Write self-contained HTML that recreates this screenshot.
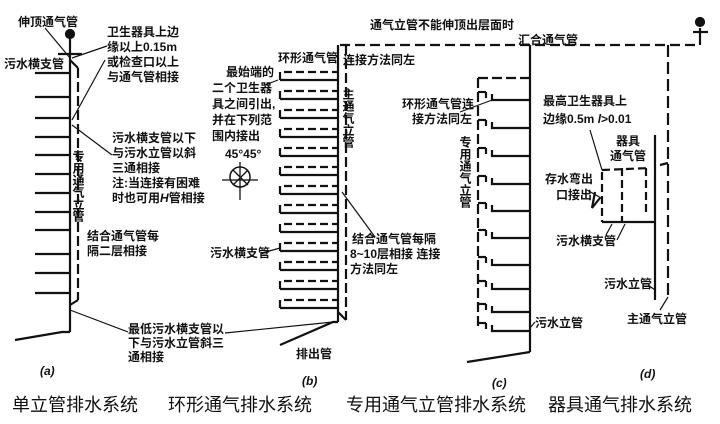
<!DOCTYPE html>
<html><head><meta charset="utf-8"><style>
html,body{margin:0;padding:0;background:#fff}
svg{display:block}
text{font-family:"Liberation Sans","Noto Sans CJK SC",sans-serif;font-weight:bold;font-size:12px;fill:#111}
.cap{font-weight:normal;font-size:18px}
</style></head><body>
<svg width="720" height="424" viewBox="0 0 720 424" xmlns="http://www.w3.org/2000/svg">
<g stroke="#111" stroke-width="2.2" fill="none">
<!-- (a) -->
<circle cx="70" cy="34" r="4" fill="#111"/>
<line x1="70" y1="34" x2="70" y2="332"/>
<line x1="58" y1="54" x2="82" y2="54"/>
<line x1="70" y1="60" x2="78" y2="68"/>
<line x1="78" y1="68" x2="78" y2="300" stroke-dasharray="10,4"/>
<line x1="78" y1="300" x2="70" y2="305"/>
<polyline points="70,332 62,332 15,340"/>
<g>
<line x1="35" y1="73" x2="70" y2="73"/><line x1="35" y1="97" x2="70" y2="97"/><line x1="35" y1="118" x2="70" y2="118"/><line x1="35" y1="137" x2="70" y2="137"/><line x1="35" y1="155" x2="70" y2="155"/><line x1="35" y1="174" x2="70" y2="174"/><line x1="35" y1="193" x2="70" y2="193"/><line x1="35" y1="212" x2="70" y2="212"/><line x1="35" y1="230" x2="70" y2="230"/><line x1="35" y1="254" x2="70" y2="254"/><line x1="35" y1="273" x2="70" y2="273"/><line x1="35" y1="293" x2="70" y2="293"/>
</g>
<g stroke-width="1.2">
<line x1="45" y1="28" x2="70" y2="58"/>
<line x1="72" y1="58" x2="107" y2="46"/>
<line x1="72" y1="120" x2="105" y2="60"/>
<line x1="72" y1="125" x2="112" y2="155"/>
<line x1="70" y1="310" x2="128" y2="332"/>
<line x1="225" y1="333" x2="333" y2="322"/>
</g>
<!-- (b) -->
<line x1="338" y1="45" x2="338" y2="322"/>
<polyline points="338,322 333,322 280,345"/>
<line x1="340" y1="45" x2="700" y2="45" stroke-dasharray="10,5"/>
<line x1="700" y1="45" x2="700" y2="28"/>
<circle cx="700" cy="22" r="4" fill="#111"/>
<line x1="693" y1="32" x2="708" y2="32"/>
<line x1="346" y1="45" x2="346" y2="320" stroke-dasharray="10,4"/>
<line x1="346" y1="320" x2="338" y2="312"/>
<g id="bb">
<line x1="280" y1="80" x2="338" y2="80"/><line x1="280" y1="72" x2="280" y2="80"/><line x1="284" y1="72" x2="338" y2="72" stroke-dasharray="8,4"/>
</g>
<use href="#bb" y="19"/><use href="#bb" y="38"/><use href="#bb" y="57"/><use href="#bb" y="76"/><use href="#bb" y="95"/><use href="#bb" y="114"/><use href="#bb" y="133"/><use href="#bb" y="152"/><use href="#bb" y="171"/><use href="#bb" y="190"/><use href="#bb" y="209"/><use href="#bb" y="228"/>
<g stroke-width="1.2">
<line x1="265" y1="85" x2="278" y2="80"/>
<line x1="342" y1="192" x2="375" y2="237"/>
<line x1="262" y1="253" x2="280" y2="248"/>
</g>
<circle cx="240" cy="177" r="10" stroke-width="1.5"/>
<line x1="222" y1="180" x2="258" y2="180" stroke-width="1.3"/>
<line x1="240" y1="162" x2="240" y2="200" stroke-width="1.3"/>
<line x1="233" y1="170" x2="248" y2="185" stroke-width="1.3"/>
<line x1="248" y1="170" x2="233" y2="185" stroke-width="1.3"/>
<!-- (c) -->
<line x1="530" y1="45" x2="530" y2="352"/>
<line x1="530" y1="352" x2="467" y2="362"/>
<line x1="478" y1="78" x2="530" y2="78" stroke-dasharray="10,4"/>
<line x1="478" y1="78" x2="478" y2="326" stroke-dasharray="10,4"/>
<g id="cc">
<line x1="478" y1="92" x2="486" y2="92"/><line x1="486" y1="92" x2="486" y2="98"/><polyline points="492,94 492,100 530,100"/>
</g>
<use href="#cc" y="28"/><use href="#cc" y="56"/><use href="#cc" y="84"/><use href="#cc" y="111"/><use href="#cc" y="138"/><use href="#cc" y="165"/><use href="#cc" y="189"/><use href="#cc" y="212"/><use href="#cc" y="231"/>
<line x1="460" y1="112" x2="492" y2="100" stroke-width="1.2"/>
<line x1="530" y1="328" x2="535" y2="322" stroke-width="1.2"/>
<!-- (d) -->
<line x1="668" y1="45" x2="668" y2="297" stroke-dasharray="12,5"/>
<line x1="655" y1="135" x2="655" y2="300"/>
<line x1="602" y1="170" x2="650" y2="168" stroke-dasharray="8,4"/>
<polyline points="660,165 668,163"/>
<line x1="602" y1="172" x2="602" y2="222" stroke-dasharray="8,4"/>
<line x1="622" y1="168" x2="622" y2="222" stroke-dasharray="8,4"/>
<line x1="646" y1="168" x2="646" y2="214" stroke-dasharray="8,4"/>
<line x1="602" y1="222" x2="655" y2="222"/>
<polyline points="595,192 592,208 600,198"/>
<line x1="587" y1="190" x2="601" y2="198" stroke-width="1.2"/>
<line x1="590" y1="130" x2="602" y2="170" stroke-width="1.2"/>
<line x1="606" y1="235" x2="612" y2="224" stroke-width="1.2"/>
<line x1="617" y1="240" x2="625" y2="224" stroke-width="1.2"/>
<line x1="648" y1="285" x2="655" y2="290" stroke-width="1.2"/>
<line x1="660" y1="310" x2="668" y2="297" stroke-width="1.2"/>
</g>
<!-- (a) text -->
<text x="18" y="26">伸顶通气管</text>
<text x="107" y="36">卫生器具上边</text>
<text x="107" y="51">缘以上0.15m</text>
<text x="107" y="66">或检查口以上</text>
<text x="107" y="81">与通气管相接</text>
<text x="4" y="68">污水横支管</text>
<text x="112" y="142">污水横支管以下</text>
<text x="112" y="157">与污水立管以斜</text>
<text x="112" y="172">三通相接</text>
<text x="112" y="187">注:当连接有困难</text>
<text x="112" y="202">时也可用<tspan font-style="italic">H</tspan>管相接</text>
<text x="78" y="150" writing-mode="tb" font-size="11">专用通气立管</text>
<text x="87" y="240">结合通气管每</text>
<text x="87" y="255">隔二层相接</text>
<text x="128" y="333">最低污水横支管以</text>
<text x="128" y="347">下与污水立管斜三</text>
<text x="128" y="361">通相接</text>
<text x="40" y="375" font-style="italic" font-weight="normal">(a)</text>
<!-- (b) text -->
<text x="278" y="62">环形通气管</text>
<text x="343" y="64">连接方法同左</text>
<text x="226" y="76">最始端的</text>
<text x="212" y="92">二个卫生器</text>
<text x="212" y="108">具之间引出,</text>
<text x="212" y="124">并在下列范</text>
<text x="212" y="140">围内接出</text>
<text x="225" y="158" font-size="11" font-weight="normal">45°45°</text>
<text x="348" y="88" writing-mode="tb" font-size="11">主通气立管</text>
<text x="352" y="243">结合通气管每隔</text>
<text x="350" y="258">8~10层相接 连接</text>
<text x="350" y="273">方法同左</text>
<text x="210" y="257">污水横支管</text>
<text x="296" y="358">排出管</text>
<text x="302" y="385" font-style="italic" font-weight="normal">(b)</text>
<!-- (c) text -->
<text x="370" y="29">通气立管不能伸顶出层面时</text>
<text x="518" y="44">汇合通气管</text>
<text x="402" y="108">环形通气管连</text>
<text x="412" y="123">接方法同左</text>
<text x="465" y="136" writing-mode="tb" font-size="11">专用通气立管</text>
<text x="535" y="327">污水立管</text>
<text x="492" y="387" font-style="italic" font-weight="normal">(c)</text>
<!-- (d) text -->
<text x="543" y="105">最高卫生器具上</text>
<text x="543" y="123">边缘0.5m <tspan font-style="italic">l</tspan>&gt;0.01</text>
<text x="616" y="145">器具</text>
<text x="610" y="160">通气管</text>
<text x="545" y="183">存水弯出</text>
<text x="556" y="199">口接出</text>
<text x="556" y="245">污水横支管</text>
<text x="604" y="288">污水立管</text>
<text x="627" y="323">主通气立管</text>
<text x="640" y="378" font-style="italic" font-weight="normal">(d)</text>
<!-- captions -->
<text class="cap" x="12" y="411">单立管排水系统</text>
<text class="cap" x="168" y="411">环形通气排水系统</text>
<text class="cap" x="346" y="411">专用通气立管排水系统</text>
<text class="cap" x="548" y="411">器具通气排水系统</text>
</svg>
</body></html>
